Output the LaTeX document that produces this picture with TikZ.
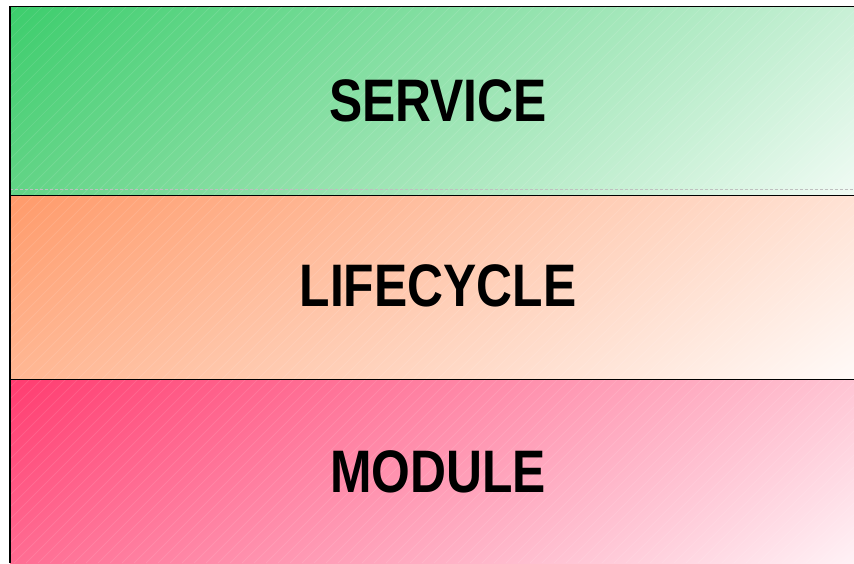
\documentclass[tikz,border=0pt]{standalone}
\usepackage{fontspec}
\setmainfont{Liberation Sans}
\usetikzlibrary{shadings}

\definecolor{srvA}{HTML}{3CCD6C}
\definecolor{srvB}{HTML}{C8F0D6}
\definecolor{srvC}{HTML}{62D486}
\definecolor{srvD}{HTML}{F0FBF4}
\definecolor{lfcA}{HTML}{FF9A6A}
\definecolor{lfcB}{HTML}{FFE2D4}
\definecolor{lfcC}{HTML}{FFB793}
\definecolor{lfcD}{HTML}{FFFAF8}
\definecolor{modA}{HTML}{FF3C70}
\definecolor{modB}{HTML}{FFC4D3}
\definecolor{modC}{HTML}{FF6C92}
\definecolor{modD}{HTML}{FFF2F6}

\tikzset{
	hatch/.style={white, draw opacity=0.12, line width=0.7pt},
	layertext/.style={font=\fontsize{60}{60}\selectfont\bfseries, inner sep=0pt}
}

\begin{document}
\begin{tikzpicture}[x=1pt, y=-1pt]
	\useasboundingbox (0, 0) rectangle (854, 563);

	% bands
	\shade[upper left=srvA, upper right=srvB, lower left=srvC, lower right=srvD] (10, 6) rectangle (854, 195);
	\shade[upper left=lfcA, upper right=lfcB, lower left=lfcC, lower right=lfcD] (10, 195) rectangle (854, 379);
	\shade[upper left=modA, upper right=modB, lower left=modC, lower right=modD] (10, 379) rectangle (854, 563);

	% faint diagonal hatching
	\begin{scope}
		\clip (10, 6) rectangle (854, 563);
		\foreach \k in {-560,-548,...,850}
			\draw[hatch] (10+\k, 563) -- (567+\k, 6);
	\end{scope}

	\draw[black!25, densely dashed, line width=0.6pt] (10, 189) -- (854, 189);

	\draw[line width=1pt] (10, 6) -- (854, 6);
	\draw[line width=1pt] (10, 195) -- (854, 195);
	\draw[line width=1pt] (10, 379) -- (854, 379);
	\draw[line width=1.5pt] (10, 6) -- (10, 563);

	\node[layertext] (service) at (438, 101) {\scalebox{0.83}[1]{SERVICE}};
	\node[layertext] (lifecycle) at (438, 286) {\scalebox{0.83}[1]{LIFECYCLE}};
	\node[layertext] (module) at (438, 472) {\scalebox{0.83}[1]{MODULE}};

\end{tikzpicture}
\end{document}
